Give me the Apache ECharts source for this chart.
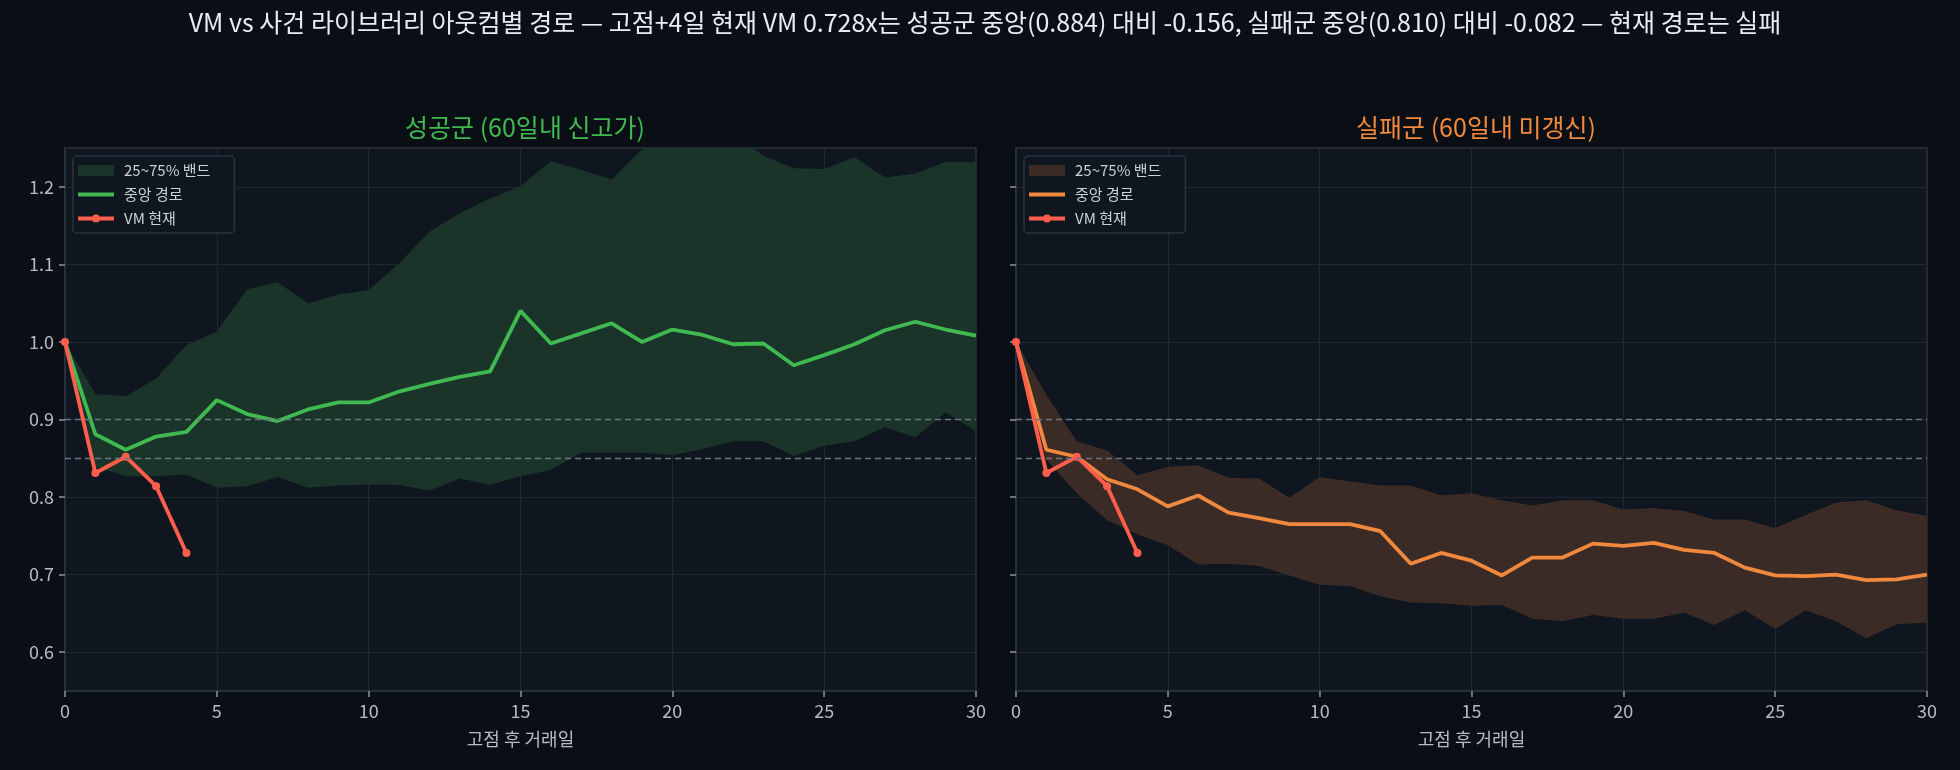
<!DOCTYPE html>
<html><head><meta charset="utf-8">
<script src="https://cdn.jsdelivr.net/npm/echarts@6/dist/echarts.min.js"></script>
<style>html,body{margin:0;padding:0;background:#0a0f16;}#c{width:1960px;height:770px;}</style>
</head><body><div id="c"></div>
<script>
const days = ['0','1','2','3','4','5','6','7','8','9','10','11','12','13','14','15','16','17','18','19','20','21','22','23','24','25','26','27','28','29','30'];
const succMedian = [1.000,0.881,0.861,0.878,0.884,0.925,0.907,0.898,0.913,0.922,0.922,0.936,0.946,0.955,0.962,1.040,0.998,1.011,1.024,1.000,1.016,1.009,0.997,0.998,0.970,0.983,0.997,1.015,1.026,1.016,1.008];
const succUpper = [1.000,0.933,0.930,0.953,0.996,1.013,1.068,1.077,1.050,1.061,1.067,1.101,1.142,1.166,1.185,1.201,1.233,1.222,1.209,1.248,1.270,1.280,1.270,1.240,1.224,1.223,1.238,1.212,1.217,1.232,1.232];
const succLower = [1.000,0.839,0.827,0.827,0.829,0.812,0.814,0.826,0.812,0.815,0.816,0.816,0.808,0.824,0.816,0.827,0.835,0.857,0.857,0.857,0.854,0.862,0.872,0.872,0.853,0.866,0.872,0.890,0.877,0.909,0.885];
const failMedian = [1.000,0.861,0.852,0.823,0.810,0.788,0.802,0.780,0.773,0.765,0.765,0.765,0.756,0.714,0.728,0.718,0.699,0.722,0.722,0.740,0.737,0.741,0.732,0.728,0.709,0.699,0.698,0.700,0.693,0.694,0.700];
const failUpper = [1.000,0.932,0.872,0.860,0.828,0.839,0.841,0.825,0.824,0.799,0.826,0.820,0.815,0.815,0.802,0.805,0.796,0.789,0.796,0.796,0.784,0.786,0.782,0.771,0.771,0.760,0.777,0.793,0.796,0.783,0.776];
const failLower = [1.000,0.848,0.805,0.770,0.752,0.738,0.713,0.714,0.711,0.699,0.687,0.685,0.672,0.664,0.663,0.660,0.661,0.643,0.640,0.648,0.643,0.643,0.651,0.635,0.654,0.630,0.654,0.640,0.618,0.636,0.638];
const vmCurrent = [1.000,0.831,0.852,0.814,0.728];
const refLevels = [0.9, 0.85];
const yTicks = [0.6,0.7,0.8,0.9,1.0,1.1,1.2];

const mainTitle = 'VM vs 사건 라이브러리 아웃컴별 경로 — 고점+4일 현재 VM 0.728x는 성공군 중앙(0.884) 대비 -0.156, 실패군 중앙(0.810) 대비 -0.082 — 현재 경로는 실패';
const panelTitles = ['성공군 (60일내 신고가)', '실패군 (60일내 미갱신)'];
const legendNames = ['25~75% 밴드', '중앙 경로', 'VM 현재'];
const xName = '고점 후 거래일';

const FONT = '"Noto Sans CJK KR", "Noto Sans", sans-serif';
const GREEN = '#3fb950', ORANGE = '#f0883e', RED = '#ff5e4d';
const BAND_G = '#1b3429', BAND_O = '#3a2b26';
const PLOT_BG = '#10161f', BORDER = '#2a3341', GRIDC = '#1f2731';
const TICKC = '#b4bcc6';

const diff = (u, l) => u.map((v, i) => +(v - l[i]).toFixed(4));

const grids = [
  {left: 65, right: 984, top: 148, bottom: 79, backgroundColor: PLOT_BG, show: true, borderColor: BORDER, borderWidth: 1.5},
  {left: 1016, right: 33, top: 148, bottom: 79, backgroundColor: PLOT_BG, show: true, borderColor: BORDER, borderWidth: 1.5}
];

function xAxis(gi) {
  return {
    type: 'category', gridIndex: gi, data: days, boundaryGap: false,
    name: xName, nameLocation: 'middle', nameGap: 39,
    nameTextStyle: {color: TICKC, fontSize: 18, fontFamily: FONT},
    axisLine: {show: true, lineStyle: {color: BORDER, width: 1.5}},
    axisTick: {show: true, interval: 4, length: 6, lineStyle: {color: '#8b949e', width: 1.5}},
    axisLabel: {color: TICKC, fontSize: 18, fontFamily: FONT, margin: 11, interval: 4},
    splitLine: {show: true, interval: 4, lineStyle: {color: GRIDC, width: 1}}
  };
}
function yAxis(gi, showLabels) {
  return {
    type: 'value', gridIndex: gi, min: 0.55, max: 1.25, splitNumber: 7,
    axisLine: {show: true, lineStyle: {color: BORDER, width: 1.5}},
    axisTick: {show: true, length: 6, lineStyle: {color: '#8b949e', width: 1.5}, customValues: yTicks},
    axisLabel: {show: showLabels, color: TICKC, fontSize: 18, fontFamily: FONT, margin: 11,
      customValues: yTicks, formatter: v => v.toFixed(1)},
    splitLine: {show: true, lineStyle: {color: GRIDC, width: 1}}
  };
}

function panelSeries(gi, suffix, band, bandLower, bandUpper, median, medColor) {
  return [
    {name: 'lower' + suffix, type: 'line', xAxisIndex: gi, yAxisIndex: gi, stack: 'band' + gi,
     data: bandLower, symbol: 'none', lineStyle: {opacity: 0, width: 0}, silent: true, z: 1},
    {name: legendNames[0] + suffix, type: 'line', xAxisIndex: gi, yAxisIndex: gi, stack: 'band' + gi,
     data: diff(bandUpper, bandLower), symbol: 'none', lineStyle: {opacity: 0, width: 0},
     itemStyle: {color: band}, areaStyle: {color: band, opacity: 1}, silent: true, z: 1,
     markLine: {silent: true, symbol: 'none', label: {show: false},
       lineStyle: {type: [6, 4], color: '#6b7480', width: 1.3},
       data: refLevels.map(v => ({yAxis: v}))}},
    {name: legendNames[1] + suffix, type: 'line', xAxisIndex: gi, yAxisIndex: gi,
     data: median, symbol: 'none', lineStyle: {color: medColor, width: 3.8},
     itemStyle: {color: medColor}, z: 3},
    {name: legendNames[2] + suffix, type: 'line', xAxisIndex: gi, yAxisIndex: gi,
     data: vmCurrent, symbol: 'circle', symbolSize: 8, showSymbol: true,
     lineStyle: {color: RED, width: 3.8}, itemStyle: {color: RED}, z: 4}
  ];
}

const ICON_LINE = 'path://M0,2H36V6H0Z';
const ICON_LINE_DOT = 'path://M0,2H14.5V6H0Z M21.5,2H36V6H21.5Z M14,4A4,4,0,1,1,22,4A4,4,0,1,1,14,4Z';

function legend(left, suffix, band, med) {
  return {
    orient: 'vertical', left: left, top: 156, itemWidth: 36, itemHeight: 11, itemGap: 9,
    backgroundColor: PLOT_BG, borderColor: BORDER, borderWidth: 1.5, borderRadius: 4,
    padding: [7, 24, 7, 5],
    textStyle: {color: '#c9d1d9', fontSize: 15, fontFamily: FONT, padding: [0, 0, 0, 5]},
    formatter: n => n.split('|')[0],
    selectedMode: false,
    data: [
      {name: legendNames[0] + suffix, icon: 'rect', itemStyle: {color: band}},
      {name: legendNames[1] + suffix, icon: ICON_LINE, itemStyle: {color: med}},
      {name: legendNames[2] + suffix, icon: ICON_LINE_DOT, itemStyle: {color: RED}}
    ]
  };
}

const chart = echarts.init(document.getElementById('c'), null, {renderer: 'canvas'});
chart.setOption({
  backgroundColor: '#0a0f16',
  animation: false,
  title: [
    {text: mainTitle, left: 980, top: 5, textAlign: 'center',
     textStyle: {color: '#e6edf3', fontSize: 25, fontWeight: 'normal', fontFamily: FONT}},
    {text: panelTitles[0], left: 520, top: 110, textAlign: 'center',
     textStyle: {color: GREEN, fontSize: 25, fontWeight: 'normal', fontFamily: FONT}},
    {text: panelTitles[1], left: 1471, top: 110, textAlign: 'center',
     textStyle: {color: ORANGE, fontSize: 25, fontWeight: 'normal', fontFamily: FONT}}
  ],
  legend: [legend(73, '|L', BAND_G, GREEN), legend(1024, '|R', BAND_O, ORANGE)],
  grid: grids,
  xAxis: [xAxis(0), xAxis(1)],
  yAxis: [yAxis(0, true), yAxis(1, false)],
  series: [
    ...panelSeries(0, '|L', BAND_G, succLower, succUpper, succMedian, GREEN),
    ...panelSeries(1, '|R', BAND_O, failLower, failUpper, failMedian, ORANGE)
  ]
});
</script></body></html>
